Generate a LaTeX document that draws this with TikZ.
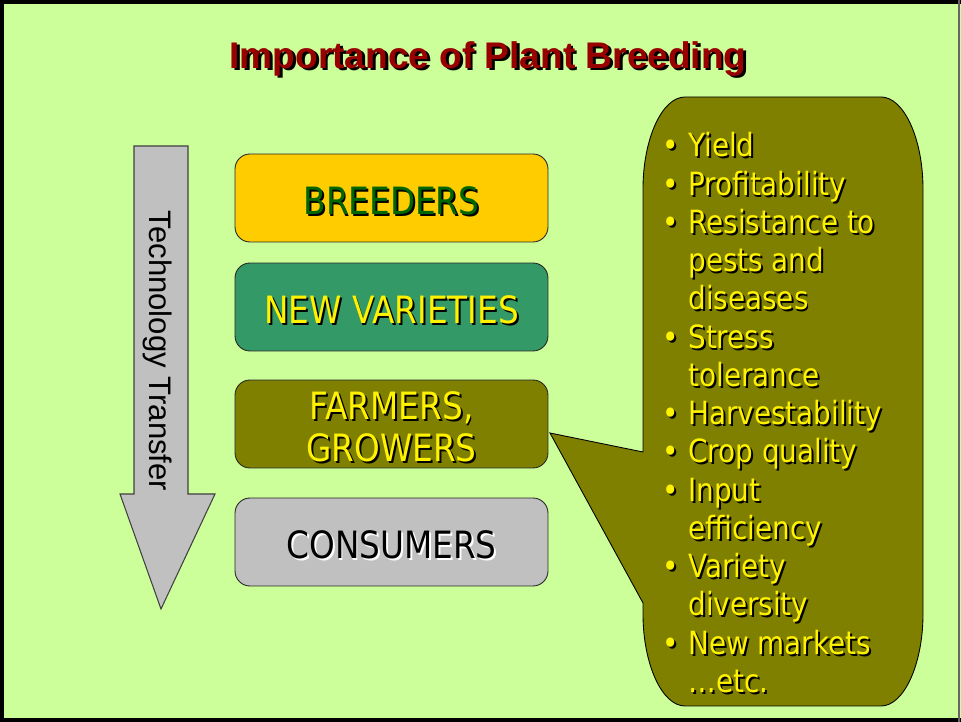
\documentclass[tikz,border=0pt]{standalone}
\usepackage{fontspec}
\usetikzlibrary{positioning}
\newfontfamily\arialfont{Liberation Sans}
\newfontfamily\tahomafont[FakeStretch=0.87]{DejaVu Sans}
\definecolor{slidebg}{HTML}{CCFF99}
\definecolor{titlered}{HTML}{990000}
\definecolor{breedgold}{HTML}{FFCC00}
\definecolor{breedgreen}{HTML}{006600}
\definecolor{varietygreen}{HTML}{339966}
\definecolor{farmolive}{HTML}{808000}
\definecolor{consgray}{HTML}{C0C0C0}
\definecolor{arrowline}{HTML}{404040}
% text with a drop shadow: [offset]{text colour}{shadow colour}{text}
\newcommand{\shadowed}[4][1.1pt]{\leavevmode\rlap{\kern#1\raisebox{-#1}{\color{#3}#4}}{\color{#2}#4}}

\begin{document}
\begin{tikzpicture}[x=0.02cm, y=-0.02cm,
    stage/.style={draw=black!85, line width=0.5pt, rounded corners=0.3cm,
      minimum width=6.26cm, minimum height=1.76cm, inner sep=0pt, align=center,
      text height=18.8pt, text depth=0pt,
      font=\tahomafont\fontsize{21.4}{23.8}\selectfont},
    listline/.style={anchor=base west, inner sep=0pt,
      font=\tahomafont\fontsize{18.2}{21.7}\selectfont}]
    \useasboundingbox (0,0) rectangle (961,722);
    \fill[slidebg] (0,0) rectangle (961,722);
    \draw[line width=2.3pt] (2,722) -- (2,2) -- (961,2);
    \draw[line width=2.3pt] (0,720) -- (961,720);
    \draw[line width=0.6pt, black!60] (959,0) -- (959,722);

    % title
    \node[font=\arialfont\bfseries\fontsize{21.1}{24}\selectfont] (title) at (488,60)
        {\shadowed[1.5pt]{titlered}{black}{Importance of Plant Breeding}};

    % technology transfer arrow
    \draw[fill=consgray, draw=arrowline, line width=0.6pt]
        (134,146) -- (188,146) -- (188,494) -- (215,494) -- (161,609)
        -- (120,494) -- (134,494) -- cycle;
    \node[rotate=-90, font=\arialfont\fontsize{17.7}{20}\selectfont] (techlabel)
        at (158,351) {Technology Transfer};

    % the chain
    \node[stage, fill=breedgold] (breeders) at (391.5,198)
        {\shadowed{breedgreen}{black}{BREEDERS}};
    \node[stage, fill=varietygreen] (varieties) at (391.5,307)
        {\shadowed{yellow}{black}{NEW VARIETIES}};
    \node[stage, fill=farmolive, text height=42.6pt] (farmers) at (391.5,424)
        {\shadowed{yellow}{black}{FARMERS,}\\\shadowed{yellow}{black}{GROWERS}};
    \node[stage, fill=consgray] (consumers) at (391.5,542)
        {\shadowed{black}{white}{CONSUMERS}};

    % callout with the benefits
    \coordinate (tip) at (550,433);
    \draw[fill=farmolive, line width=0.5pt]
        (643,452) -- (tip) -- (643,603) -- (643,614)
        .. controls (643,664) and (662,706) .. (685,706) -- (881,706)
        .. controls (904,706) and (923,664) .. (923,614) -- (923,189)
        .. controls (923,139) and (904,97) .. (881,97) -- (685,97)
        .. controls (662,97) and (643,139) .. (643,189) -- cycle;
    \foreach \b/\t [count=\i from 0] in {1/Yield, 1/Profitability, 1/Resistance to,
        0/pests and, 0/diseases, 1/Stress, 0/tolerance, 1/Harvestability,
        1/Crop quality, 1/Input, 0/efficiency, 1/Variety, 0/diversity,
        1/New markets, 0/\ldots etc.}
    {
        \node[listline] (item\i) at (688,{157+38.25*\i}) {\shadowed{yellow}{black}{\t}};
        \ifnum\b=1
            \node[listline, anchor=base] (dot\i) at (671,{157+38.25*\i})
                {\shadowed{yellow}{black}{•}};
        \fi
    }
\end{tikzpicture}
\end{document}
